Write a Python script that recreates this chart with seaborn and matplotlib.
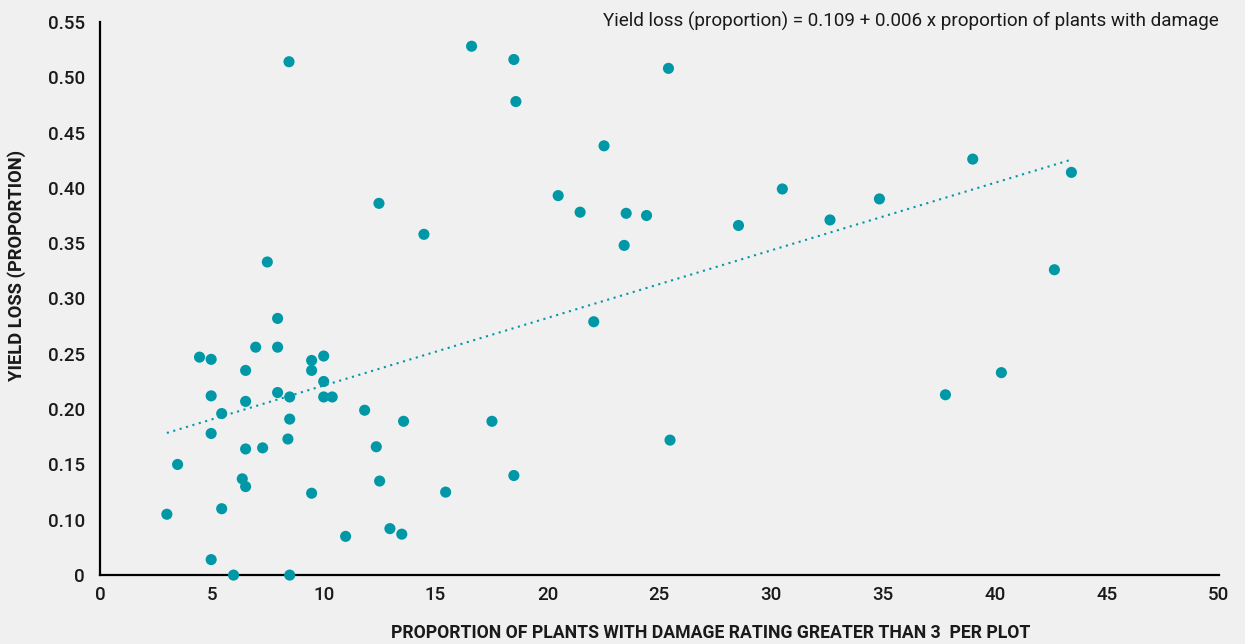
import numpy as np
import pandas as pd
import seaborn as sns
import matplotlib.pyplot as plt

damage_pct = [2.99, 3.47, 4.45, 4.97, 4.97, 4.97, 4.97, 5.44, 5.44, 5.97,
              6.36, 6.51, 6.51, 6.51, 6.51, 6.96, 7.27, 7.48, 7.94, 7.94,
              7.94, 8.45, 8.48, 8.48, 8.40, 8.48, 9.46, 9.46, 9.46, 10.0,
              10.0, 10.0, 10.38, 10.98, 11.83, 12.35, 12.47, 12.5, 12.96, 13.49,
              13.57, 14.48, 15.45, 16.61, 17.52, 18.5, 18.5, 18.59, 20.48, 21.46,
              22.07, 22.53, 23.43, 23.52, 24.43, 25.41, 25.48, 28.54, 30.5, 32.63,
              34.84, 37.79, 39.01, 40.29, 42.66, 43.42]
yield_loss = [0.055, 0.100, 0.197, 0.195, 0.162, 0.128, 0.014, 0.146, 0.060, 0.0,
              0.087, 0.080, 0.185, 0.157, 0.114, 0.206, 0.115, 0.283, 0.232, 0.206,
              0.165, 0.464, 0.161, 0.141, 0.123, 0.0, 0.194, 0.185, 0.074, 0.198,
              0.175, 0.161, 0.161, 0.035, 0.149, 0.116, 0.336, 0.085, 0.042, 0.037,
              0.139, 0.308, 0.075, 0.478, 0.139, 0.466, 0.090, 0.428, 0.343, 0.328,
              0.229, 0.388, 0.298, 0.327, 0.325, 0.458, 0.122, 0.316, 0.349, 0.321,
              0.340, 0.163, 0.376, 0.183, 0.276, 0.364]

# tick labels exactly as printed on the original axis
y_tick_labels = ["0", "0.10", "0.15", "0.20", "0.25", "0.30",
                 "0.35", "0.40", "0.45", "0.50", "0.55"]
x_ticks = [0, 5, 10, 15, 20, 25, 30, 35, 40, 45, 50]

equation = "Yield loss (proportion) = 0.109 + 0.006 x proportion of plants with damage"
x_title = "PROPORTION OF PLANTS WITH DAMAGE RATING GREATER THAN 3  PER PLOT"
y_title = "YIELD LOSS (PROPORTION)"

TEAL = "#0097a7"
BG = "#f0f0f0"

df = pd.DataFrame({"damage": damage_pct, "loss": yield_loss})

sns.set_style("white")
plt.rcParams["font.family"] = ["Roboto", "DejaVu Sans"]

fig = plt.figure(figsize=(12.45, 6.44), dpi=100, facecolor=BG)
ax = fig.add_axes([0.0803, 0.107, 0.8985, 0.859])
ax.set_facecolor(BG)

# Linear trendline over the data range
slope, intercept = np.polyfit(df["damage"], df["loss"], 1)
xs = np.array([df["damage"].min(), df["damage"].max()])
ax.plot(xs, intercept + slope * xs, color=TEAL, lw=1.5,
        linestyle=(0, (1, 2.2)), zorder=2)

sns.scatterplot(data=df, x="damage", y="loss", ax=ax, color=TEAL, s=64,
                edgecolor="none", zorder=4, clip_on=False)

ax.set_xlim(0, 50)
ax.set_ylim(0, 0.50)
ax.set_xticks(x_ticks)
ax.set_yticks(np.linspace(0, 0.50, len(y_tick_labels)))
ax.set_yticklabels(y_tick_labels)
ax.tick_params(axis="both", length=0, labelsize=13.5, colors="#1a1a1a")
ax.tick_params(axis="y", pad=11)
ax.tick_params(axis="x", pad=8)
for lab in ax.get_xticklabels() + ax.get_yticklabels():
    lab.set_fontweight("medium")

for side in ["top", "right"]:
    ax.spines[side].set_visible(False)
for side in ["left", "bottom"]:
    ax.spines[side].set_color("black")
    ax.spines[side].set_linewidth(1.6)

ax.set_xlabel(x_title, fontsize=12.7, fontweight="bold", color="#1a1a1a")
ax.set_ylabel(y_title, fontsize=13.2, fontweight="bold", color="#1a1a1a")
ax.xaxis.set_label_coords(0.546, -0.088)
ax.yaxis.set_label_coords(-0.066, 0.56)

ax.text(1.0, 1.0, equation, transform=ax.transAxes, ha="right", va="center",
        fontsize=13.6, color="#1a1a1a")

fig.savefig("out.png", dpi=100, facecolor=BG)
